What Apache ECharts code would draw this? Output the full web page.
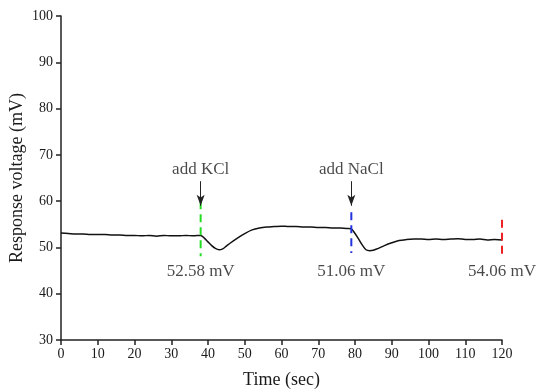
<!DOCTYPE html>
<html><head><meta charset="utf-8">
<script src="https://cdn.jsdelivr.net/npm/echarts@6/dist/echarts.min.js"></script>
<style>html,body{margin:0;padding:0;background:#fff}#c{width:538px;height:392px}</style>
</head><body><div id="c"></div>
<script>
var timeSec = [0,2,4,6,8,10,12,14,16,18,20,22,24,26,28,30,32,34,36,38,39,40,41,42,43,44,45,46,48,50,52,54,56,58,60,62,64,66,68,70,72,74,76,78,79,80,81,82,83,84,85,86,88,90,92,94,96,98,100,102,104,106,108,110,112,114,116,118,120];
var voltage = [53.1,53.0,52.9,52.9,52.8,52.8,52.8,52.7,52.7,52.6,52.6,52.5,52.6,52.4,52.6,52.5,52.5,52.6,52.5,52.6,52.0,51.2,50.4,49.8,49.5,49.7,50.3,50.9,52.0,53.0,53.8,54.2,54.4,54.5,54.6,54.5,54.5,54.4,54.4,54.3,54.3,54.2,54.2,54.1,54.0,53.0,51.8,50.5,49.5,49.3,49.4,49.7,50.4,51.0,51.5,51.7,51.8,51.8,51.7,51.8,51.7,51.8,51.9,51.7,51.7,51.8,51.6,51.7,51.6];
var xTicks = [0,10,20,30,40,50,60,70,80,90,100,110,120];
var yTicks = [30,40,50,60,70,80,90,100];
// event markers
var markerTime = [38, 79, 120];
var markerLow = [48.1, 48.8, 47.7];
var markerHigh = [60.0, 57.6, 56.0];
var markerColor = ['#22dd22', '#2233dd', '#ee2222'];
var markerValueText = ['52.58 mV', '51.06 mV', '54.06 mV'];
var addText = ['add KCl', 'add NaCl'];
var addTime = [38, 79];
var arrowTop = 64.3, arrowBottom = 59.0, addTextY = 66.9, valueTextY = 44.9;

var FONT = 'Liberation Serif';
var series = [{
  type: 'line', data: timeSec.map(function(t,i){return [t, voltage[i]];}),
  showSymbol: false, smooth: 0.3, lineStyle: {color: '#111', width: 1.5}, z: 3
}];
markerTime.forEach(function(t,i){
  series.push({type:'line', data:[[t,markerHigh[i]],[t,markerLow[i]]], showSymbol:false,
    lineStyle:{color:markerColor[i], width:2, type:[8,5]}, z:4});
});
series.push({type:'scatter', symbolSize:0, data: markerTime.map(function(t,i){return [t, valueTextY, markerValueText[i]];}),
  label:{show:true, position:'inside', formatter:function(p){return p.data[2];}, color:'#1a1a1a', fontFamily:FONT, fontSize:17}});
series.push({type:'scatter', symbolSize:0, data: addTime.map(function(t,i){return [t, addTextY, addText[i]];}),
  label:{show:true, position:'inside', formatter:function(p){return p.data[2];}, color:'#1a1a1a', fontFamily:FONT, fontSize:17}});
series.push({type:'line', data:[], markLine:{silent:true, symbol:['none','arrow'], symbolSize:[6,11],
  lineStyle:{color:'#222', width:1, type:'solid'}, label:{show:false},
  data: addTime.map(function(t){return [{coord:[t, arrowTop]},{coord:[t, arrowBottom]}];})}});

var chart = echarts.init(document.getElementById('c'));
chart.setOption({
  animation:false,
  grid:{left:61, right:36, top:16, bottom:52, containLabel:false, outerBoundsMode:'none'},
  xAxis:{type:'value', min:0, max:120, interval:10, name:'Time (sec)', nameLocation:'middle', nameGap:31, nameMoveOverlap:false,
    nameTextStyle:{fontFamily:FONT, fontSize:18, color:'#1a1a1a'},
    axisLine:{lineStyle:{color:'#222', width:1.5}}, axisTick:{length:5, lineStyle:{color:'#222', width:1.5}},
    axisLabel:{fontFamily:FONT, fontSize:14, color:'#1a1a1a', margin:7}, splitLine:{show:false}},
  yAxis:{type:'value', min:30, max:100, interval:10, name:'Response voltage (mV)', nameLocation:'middle', nameGap:35, nameMoveOverlap:false,
    nameTextStyle:{fontFamily:FONT, fontSize:18, color:'#1a1a1a'},
    axisLine:{show:true, lineStyle:{color:'#222', width:1.5}}, axisTick:{show:true, length:5, lineStyle:{color:'#222', width:1.5}},
    axisLabel:{fontFamily:FONT, fontSize:14, color:'#1a1a1a', margin:8}, splitLine:{show:false}},
  series: series
});
</script></body></html>
